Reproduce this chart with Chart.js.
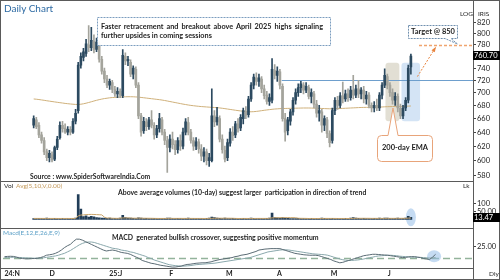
<!DOCTYPE html>
<html>
<head>
<meta charset="utf-8">
<script src="https://cdn.jsdelivr.net/npm/chart.js@4.4.1/dist/chart.umd.min.js"></script>
<style>
  html, body { margin: 0; padding: 0; background: #fff; }
  #wrap { position: relative; width: 500px; height: 280px; overflow: hidden; font-family: Lato, "Open Sans", sans-serif; }
  .pane { position: absolute; left: 0; }
  .pane canvas { display: block; }
  .txt { position: absolute; white-space: nowrap; color: #1e1e1e; }
  .line { position: absolute; background: #5a5a5a; }
  .tag { position: absolute; left: 473px; width: 26px; height: 9px; line-height: 9px; padding-left: 1px;
         background: #000; color: #fff; font-size: 7.5px; }
  svg { position: absolute; left: 0; top: 0; pointer-events: none; }
</style>
</head>
<body>
<div id="wrap">
  <div class="pane" style="top:0"><canvas id="priceChart" width="500" height="181"></canvas></div>
  <div class="pane" style="top:181px"><canvas id="volChart" width="500" height="47"></canvas></div>
  <div class="pane" style="top:228px"><canvas id="macdChart" width="500" height="52"></canvas></div>

  <svg width="500" height="280">
    <path d="M97.5,17.5 H330.5 V45.5 H97.5 Z" fill="rgba(255,255,255,0.92)" stroke="#7b9dbf" stroke-dasharray="2,1"/>
    <path d="M408.5,25.5 H457.5 V38.5 H451 L457.5,44 L445,38.5 H408.5 Z" fill="#fff" stroke="#6f8fae" stroke-dasharray="2,1"/>
    <path d="M381.5,135.5 H388 L393,108 L398,135.5 H428.5 Q432.5,135.5 432.5,139.5 V157.5 Q432.5,161.5 428.5,161.5 H381.5 Q377.5,161.5 377.5,157.5 V139.5 Q377.5,135.5 381.5,135.5 Z" fill="#fff" stroke="#e8a47a"/>
  </svg>

  <!-- frame -->
  <div class="line" style="left:0;top:0;width:500px;height:1px"></div>
  <div class="line" style="left:0;top:279px;width:500px;height:1px"></div>
  <div class="line" style="left:0;top:0;width:1px;height:280px"></div>
  <div class="line" style="left:499px;top:0;width:1px;height:280px"></div>
  <div class="line" style="left:473px;top:0;width:1px;height:280px"></div>
  <div class="line" style="left:0;top:181px;width:473px;height:1px"></div>
  <div class="line" style="left:0;top:228px;width:473px;height:1px"></div>
  <div class="line" style="left:0;top:268px;width:473px;height:1px"></div>

  <!-- texts -->
  <div class="txt" style="left:4px;top:2px;font-size:10px;color:#2d6aa3">Daily Chart</div>
  <div class="txt" style="left:101px;top:22px;width:222px;font-size:7.3px;font-weight:bold;line-height:9px;white-space:normal">
    <div style="text-align:justify;text-align-last:justify">Faster retracement and breakout above April 2025 highs signaling</div>
    <div>further upsides in coming sessions</div>
  </div>
  <div class="txt" style="left:408px;top:27px;width:50px;text-align:center;font-size:7.5px;font-weight:bold">Target @ 850</div>
  <div class="txt" style="left:377px;top:143px;width:56px;text-align:center;font-size:7.5px;font-weight:bold">200-day EMA</div>
  <div class="txt" style="left:30px;top:172px;font-size:6.8px;font-weight:bold">Source : www.SpiderSoftwareIndia.Com</div>
  <div class="txt" style="left:460px;top:10px;font-size:6.5px">LOG</div>
  <div class="txt" style="left:478px;top:10px;font-size:6.5px">IRIS</div>

  <div class="txt" style="left:4px;top:182px;font-size:6.5px">Vol</div>
  <div class="txt" style="left:16px;top:182px;font-size:6.5px;color:#c49a5c">Avg(5,10,V,0.00)</div>
  <div class="txt" style="left:118px;top:188px;font-size:6.9px;font-weight:bold">Above average volumes (10-day) suggest larger&nbsp; participation in direction of trend</div>
  <div class="txt" style="left:463px;top:182px;font-size:6.5px">Lk</div>

  <div class="txt" style="left:3px;top:229px;font-size:6.5px;color:#5a9fc6">Macd(E,12,E,26,E,9)</div>
  <div class="txt" style="left:112px;top:233px;font-size:6.9px;font-weight:bold">MACD&nbsp; generated bullish crossover, suggesting positive momentum</div>
  <div class="txt" style="left:489px;top:270px;font-size:6.5px">Dly</div>

  <div id="priceTag" class="tag"></div>
  <div id="volTag" class="tag"></div>
</div>

<script>
// Daily candles, Nov 2024 - Jun 2025
const open = [650,658,650,636,628,612,604,608,602,618,632,650,646,640,644,640,656,672,745,758,
  765,780,775,786,772,782,755,735,722,712,716,705,698,702,695,760,752,750,730,738,
  712,664,642,655,648,658,650,636,645,658,640,628,618,630,622,615,628,620,640,654,
  640,628,620,626,616,606,612,600,600,664,655,660,630,614,604,624,640,636,652,646,
  660,670,666,690,712,724,718,722,706,696,686,688,736,728,734,710,660,642,656,670,
  688,700,708,712,704,708,694,698,682,668,670,650,658,638,628,672,688,680,695,690,
  698,692,704,696,706,698,704,690,696,680,676,680,676,696,712,726,712,700,688,694,
  676,664,676,688,742];
const high = [664,662,654,640,632,616,614,612,620,634,655,656,652,648,648,660,674,750,766,774,
  790,815,812,798,792,786,760,740,728,722,720,710,708,706,772,766,760,754,744,742,
  716,668,662,660,662,672,654,650,668,662,644,634,636,640,628,632,636,646,660,662,
  644,632,632,630,622,618,616,610,706,672,677,664,636,620,630,645,648,656,660,666,
  676,678,694,716,730,732,730,726,712,702,698,756,746,742,738,714,668,662,674,692,
  706,714,718,716,716,712,706,702,688,680,674,664,662,642,676,692,694,700,717,704,
  706,710,728,712,720,708,710,702,700,684,686,690,700,716,739,730,716,706,700,698,
  682,680,692,745,764];
const low = [646,645,632,624,608,600,598,598,600,615,630,640,638,636,636,638,652,668,740,752,
  760,768,770,766,768,750,730,716,708,705,700,694,692,692,692,746,744,726,722,708,
  660,634,638,642,644,646,630,632,640,636,622,584,612,616,608,610,614,616,636,636,
  624,614,615,610,600,598,594,592,598,648,650,626,610,598,600,620,628,632,640,642,
  652,660,662,686,706,712,710,700,690,682,680,684,722,718,706,656,627,636,650,665,
  682,694,700,698,700,690,684,676,662,656,640,642,632,619,624,666,674,676,684,686,
  686,688,690,692,692,690,684,682,676,670,670,672,672,690,708,706,694,682,680,670,
  660,660,672,684,730];
const close = [660,648,636,628,612,604,610,601,618,630,650,645,640,644,640,656,668,745,760,768,
  782,775,788,772,785,755,735,722,712,718,705,698,702,696,762,752,755,730,740,712,
  664,640,656,648,658,650,636,645,660,640,628,618,630,622,615,628,620,640,655,640,
  628,620,626,616,606,612,600,604,664,655,662,630,615,602,625,640,635,652,645,662,
  672,665,690,712,725,718,724,706,695,686,692,738,728,735,712,660,640,658,670,688,
  700,708,714,704,710,694,700,682,668,672,650,660,638,625,672,688,680,695,690,698,
  692,704,696,706,698,704,690,696,680,676,680,676,696,712,728,712,700,688,694,676,
  664,676,688,740,760.70];
const ema200 = [690.0,689.6,689.1,688.5,687.9,687.2,686.6,686.0,685.4,684.8,
  684.2,683.7,683.1,682.6,682.2,681.8,681.5,681.4,681.8,682.5,
  683.4,684.5,685.6,686.8,687.9,688.9,689.8,690.6,691.2,691.8,
  692.2,692.5,692.8,693.0,693.2,693.4,693.5,693.5,693.4,693.2,
  692.9,692.4,691.9,691.4,690.9,690.4,689.9,689.4,688.9,688.3,
  687.6,686.8,686.0,685.2,684.4,683.6,682.8,682.0,681.3,680.6,
  680.0,679.5,679.0,678.6,678.2,677.9,677.6,677.3,677.0,676.8,
  676.5,676.1,675.6,675.0,674.4,673.8,673.2,672.6,672.0,671.5,
  671.0,670.6,670.3,670.2,670.4,670.8,671.3,671.9,672.5,673.0,
  673.5,674.0,674.4,674.7,675.0,675.2,675.3,675.4,675.5,675.6,
  675.7,675.8,675.9,676.0,676.0,676.0,675.9,675.8,675.7,675.5,
  675.3,675.1,674.9,674.8,674.8,674.9,675.0,675.2,675.4,675.6,
  675.8,676.0,676.2,676.4,676.6,676.8,676.9,677.0,677.1,677.1,
  677.2,677.3,677.4,677.6,677.8,678.0,678.1,678.2,678.3,678.4,
  678.5,678.6,678.7,678.9,679.1];

// Volume in lakh shares and its 10-day average
const volume = [6,5,7,5,6,8,5,6,7,5,6,7,5,6,5,7,9,155,64,18,
  22,15,20,16,12,10,9,8,7,8,6,7,6,9,26,12,9,8,7,6,
  10,8,6,7,5,6,7,6,5,7,6,8,9,6,5,7,6,5,6,8,
  6,5,7,6,5,6,7,8,14,12,9,7,6,8,6,5,7,6,5,6,
  7,6,5,8,7,6,7,5,6,7,8,40,12,10,8,11,9,7,6,5,
  6,7,6,5,6,5,7,6,5,6,8,7,6,5,7,6,5,6,5,7,
  6,8,12,9,7,6,7,6,5,6,7,6,8,7,9,8,7,6,7,8,
  6,7,8,20,13.47];
const volumeAvg = [6.5,6.4,6.4,6.3,6.3,6.4,6.3,6.2,6.3,6.1,6.0,6.2,6.1,6.2,6.0,6.2,6.6,21.5,27.3,28.4,
  30.0,31.0,31.4,30.9,30.1,29.2,28.4,14.2,8.4,9.1,7.6,7.1,6.8,7.4,9.4,9.7,9.5,8.7,8.1,7.8,
  8.2,8.0,7.7,7.6,7.3,7.2,6.7,6.4,6.2,6.2,6.3,6.5,6.7,6.6,6.5,6.5,6.6,6.4,6.5,6.6,
  6.4,6.4,6.2,6.3,6.2,6.0,6.2,6.4,7.0,7.6,7.7,7.7,7.7,7.8,7.7,7.6,7.4,6.5,6.0,6.0,
  6.3,6.2,6.1,6.3,6.2,6.3,6.4,6.3,6.4,6.5,6.6,9.8,10.5,10.7,10.7,11.2,11.4,11.5,11.2,11.0,
  10.8,7.6,7.0,6.8,6.5,5.9,6.1,6.0,5.9,6.0,6.3,6.4,6.4,6.3,6.4,6.3,6.0,6.0,6.0,6.1,
  5.9,6.1,6.8,7.2,7.2,7.1,7.3,7.1,7.1,6.6,6.7,6.7,6.7,6.6,6.7,6.9,6.8,6.8,6.9,7.0,
  7.0,7.1,7.1,8.3,8.8];

// MACD(12,26,9)
const macd = [4,4.5,4.8,4.5,3,1,0,-0.5,-0.5,0,
  0,0.5,2,4,7,8,9,11,14,18,
  23,27,30,36,41,41,39,36,33,30,
  27,24,21,18,16,17,18,17,15,13,
  12,11,9,6,3,0,-4,-6,-8,-10,
  -11,-12.5,-14,-15,-16,-17,-18,-18,-17,-16,
  -14,-12.5,-12,-11,-10,-9.5,-9,-9,-8,-7,
  -5,-3.5,-2,-1,0,1,2,4,5,7,
  8,9,11,13,15,18,19,20,20.5,21,
  21,21,21,19,17,15,13,11,10,9,
  8,7.5,7,7,7,6,4,2,0,-2,
  -5,-7,-9,-8,-6,-4,-2,0,2,4,
  6,7,8,9,9,8.5,8,7.5,7,6,
  5,4,3,2,2.5,3.5,4,4,3,2,
  0,-1,-2,3,9];
const signal = [2,2.2,2.5,2.7,2.6,2.3,2,1.5,1.2,1,
  0.8,0.8,1,1.5,2.5,3.5,4.5,5.5,7,9,
  11,14,17,21,25,29,32,34,35,35,
  34,32,30,28,26,24,22,21,20,18,
  17,16,14,13,11,9,7,5,2,0,
  -3,-5,-7,-9,-11,-13,-14,-15,-15.5,-16,
  -16,-15.5,-15,-14,-13,-12.5,-12,-11.5,-11,-10.5,
  -10,-9,-8,-7,-6,-5,-4,-3,-2,-1,
  0,1,2,4,6,8,10,12,14,15,
  16,17,18,18.5,18.5,18,17,16,15,14,
  13,12,11,10,9.5,9,8.5,8,7,5,
  3,1,-1,-2.5,-3.5,-4,-4,-3.5,-3,-2,
  -1,0.5,2,3,4.5,5.5,6,6.5,7,7,
  6.5,6,5,4.5,4,3.5,3,3,2.5,2.5,
  2,1.5,1,1.2,2];

// Axis labels
const priceTicks = [580,600,620,640,660,680,700,720,740,760,780,800,820];
const volTicks = [50, 100];
const volTickLabels = ["50.00", "100"];
const macdTicks = [25];
const macdTickLabels = ["25.00"];
const monthStarts = [0, 15, 35, 55, 74, 91, 109, 128];
const monthLabels = ["24:N", "D", "25:J", "F", "M", "A", "M", "J"];

// Annotations
const SLOTS = 157; // trading-day slots incl. empty space on the right
const breakoutLevel = 720, breakoutFrom = 94.7;
const targetLevel = 779, targetFrom = 147.1;
const zones = [
  { from: 134.3, to: 139.6, top: 749, bottom: 656, color: "rgba(197,192,170,0.5)" },
  { from: 140.4, to: 147.5, top: 749, bottom: 656, color: "rgba(152,190,232,0.42)" },
];

const UP = "#2c4a60", DOWN = "#a4a49c";
const isUp = (i) => close[i] >= open[i];
const FONT = "Lato";

Chart.defaults.animation = false;
Chart.defaults.plugins.legend.display = false;
Chart.defaults.plugins.tooltip.enabled = false;

function timeAxis(show) {
  return { type: "linear", min: -0.5, max: SLOTS - 0.5, display: show };
}

function rightAxis(type, min, max, ticks, labels) {
  return {
    type: type, position: "right", min: min, max: max,
    afterFit: (s) => { s.width = 27; },
    afterBuildTicks: (s) => { s.ticks = ticks.map((v) => ({ value: v })); },
    ticks: {
      autoSkip: false, padding: 1, color: "#222",
      font: { family: FONT, size: 7.5 },
      callback: (v) => labels[ticks.indexOf(v)],
    },
    grid: { drawOnChartArea: false, drawTicks: true, tickLength: 3, tickColor: "#444" },
    border: { display: false },
  };
}

function highlight(id, index, value, rx, ry) {
  return {
    id: id,
    beforeDatasetsDraw(chart) {
      const { ctx, scales } = chart;
      ctx.save();
      ctx.fillStyle = "rgba(150,190,232,0.55)";
      ctx.beginPath();
      ctx.ellipse(scales.x.getPixelForValue(index), scales.y.getPixelForValue(value), rx, ry, 0, 0, Math.PI * 2);
      ctx.fill();
      ctx.restore();
    },
  };
}

// Price chart annotations
const priceDecor = {
  id: "priceDecor",
  beforeDatasetsDraw(chart) {
    const { ctx, chartArea, scales: { x, y } } = chart;
    ctx.save();
    zones.forEach((z) => {
      const x0 = x.getPixelForValue(z.from), x1 = x.getPixelForValue(z.to);
      const y0 = y.getPixelForValue(z.top), y1 = y.getPixelForValue(z.bottom);
      ctx.fillStyle = z.color;
      ctx.beginPath();
      ctx.roundRect(x0, y0, x1 - x0, y1 - y0, 3);
      ctx.fill();
    });
    const yl = Math.round(y.getPixelForValue(breakoutLevel)) + 0.5;
    ctx.strokeStyle = "#6e9fcd";
    ctx.lineWidth = 1;
    ctx.beginPath();
    ctx.moveTo(x.getPixelForValue(breakoutFrom), yl);
    ctx.lineTo(chartArea.right, yl);
    ctx.stroke();
    ctx.restore();
  },
  afterDatasetsDraw(chart) {
    const { ctx, chartArea, scales: { x, y } } = chart;
    ctx.save();
    // target level
    const yt = y.getPixelForValue(targetLevel);
    ctx.strokeStyle = "#f0a46e";
    ctx.lineWidth = 1.5;
    ctx.setLineDash([3, 2]);
    ctx.beginPath();
    ctx.moveTo(x.getPixelForValue(targetFrom), yt);
    ctx.lineTo(chartArea.right, yt);
    ctx.stroke();
    // arrow towards the target
    const ax0 = x.getPixelForValue(146.5), ay0 = y.getPixelForValue(726);
    const ax1 = x.getPixelForValue(153.2), ay1 = y.getPixelForValue(774);
    ctx.strokeStyle = "#e8843f";
    ctx.lineWidth = 1;
    ctx.setLineDash([2, 1.5]);
    ctx.beginPath();
    ctx.moveTo(ax0, ay0);
    ctx.lineTo(ax1, ay1);
    ctx.stroke();
    const ang = Math.atan2(ay1 - ay0, ax1 - ax0);
    ctx.setLineDash([]);
    ctx.fillStyle = "#e8843f";
    ctx.beginPath();
    ctx.moveTo(ax1 + 2 * Math.cos(ang), ay1 + 2 * Math.sin(ang));
    ctx.lineTo(ax1 - 4 * Math.cos(ang - 0.5), ay1 - 4 * Math.sin(ang - 0.5));
    ctx.lineTo(ax1 - 4 * Math.cos(ang + 0.5), ay1 - 4 * Math.sin(ang + 0.5));
    ctx.closePath();
    ctx.fill();
    ctx.restore();
  },
};

const macdZero = {
  id: "macdZero",
  beforeDatasetsDraw(chart) {
    const { ctx, chartArea, scales: { y } } = chart;
    const y0 = y.getPixelForValue(0);
    ctx.save();
    ctx.strokeStyle = "#93b39b";
    ctx.lineWidth = 1.5;
    ctx.setLineDash([7, 4]);
    ctx.beginPath();
    ctx.moveTo(chartArea.left, y0);
    ctx.lineTo(chartArea.right, y0);
    ctx.stroke();
    ctx.restore();
  },
};

// Price chart
const priceChart = new Chart(document.getElementById("priceChart"), {
  type: "bar",
  data: {
    datasets: [
      {
        type: "line", label: "EMA 200", order: 3,
        data: ema200.map((v, i) => ({ x: i, y: v })),
        borderColor: "#cfb07a", borderWidth: 1, pointRadius: 0,
      },
      {
        label: "Wick", order: 2, grouped: false, barThickness: 1,
        data: high.map((h, i) => ({ x: i, y: [low[i], h] })),
        backgroundColor: (c) => (isUp(c.dataIndex) ? UP : DOWN),
      },
      {
        label: "Body", order: 1, grouped: false, barThickness: 2, minBarLength: 1,
        data: open.map((o, i) => ({ x: i, y: [o, close[i]] })),
        backgroundColor: (c) => (isUp(c.dataIndex) ? UP : DOWN),
      },
    ],
  },
  options: {
    responsive: false,
    layout: { padding: { left: 3, top: 3, bottom: 3, right: 0 } },
    scales: {
      x: timeAxis(false),
      y: rightAxis("logarithmic", 580, 853, priceTicks, priceTicks.map(String)),
    },
  },
  plugins: [priceDecor],
});

// Volume chart
const volChart = new Chart(document.getElementById("volChart"), {
  type: "bar",
  data: {
    datasets: [
      {
        type: "line", label: "Avg", order: 1,
        data: volumeAvg.map((v, i) => ({ x: i, y: v })),
        borderColor: "#c9a46a", borderWidth: 1, pointRadius: 0,
      },
      {
        label: "Vol", order: 2, barThickness: 2,
        data: volume.map((v, i) => ({ x: i, y: v })),
        backgroundColor: "#213d58",
      },
    ],
  },
  options: {
    responsive: false,
    layout: { padding: { left: 3, top: 0, bottom: 0, right: 0 } },
    scales: {
      x: timeAxis(false),
      y: rightAxis("linear", -19, 205, volTicks, volTickLabels),
    },
  },
  plugins: [highlight("volSpot", 144, 13.5, 5, 9)],
});

// MACD chart
const macdX = timeAxis(true);
Object.assign(macdX, {
  afterFit: (s) => { s.height = 12; },
  afterBuildTicks: (s) => { s.ticks = monthStarts.map((v) => ({ value: v })); },
  ticks: {
    autoSkip: false, maxRotation: 0, align: "start", padding: 2, color: "#222",
    font: { family: FONT, size: 7, weight: "bold" },
    callback: (v) => monthLabels[monthStarts.indexOf(v)],
  },
  grid: { display: false, drawTicks: false },
  border: { display: false },
});
const macdChart = new Chart(document.getElementById("macdChart"), {
  type: "line",
  data: {
    datasets: [
      {
        label: "MACD",
        data: macd.map((v, i) => ({ x: i, y: v })),
        borderColor: "#5b6c75", borderWidth: 1, pointRadius: 0,
      },
      {
        label: "Signal",
        data: signal.map((v, i) => ({ x: i, y: v })),
        borderColor: "#8aa8ac", borderWidth: 1, pointRadius: 0,
      },
    ],
  },
  options: {
    responsive: false,
    layout: { padding: { left: 3, top: 0, bottom: 0, right: 0 } },
    scales: {
      x: macdX,
      y: rightAxis("linear", -20, 53, macdTicks, macdTickLabels),
    },
  },
  plugins: [macdZero, highlight("macdSpot", 143.5, 5, 7, 6)],
});

// Last-value tags on the right axis
const lastClose = close[close.length - 1];
const priceTag = document.getElementById("priceTag");
priceTag.textContent = lastClose.toFixed(2);
priceTag.style.top = (priceChart.scales.y.getPixelForValue(lastClose) - 4.5) + "px";
const lastVol = volume[volume.length - 1];
const volTag = document.getElementById("volTag");
volTag.textContent = lastVol.toFixed(2);
volTag.style.top = (181 + volChart.scales.y.getPixelForValue(lastVol) - 4.5) + "px";
</script>
</body>
</html>
